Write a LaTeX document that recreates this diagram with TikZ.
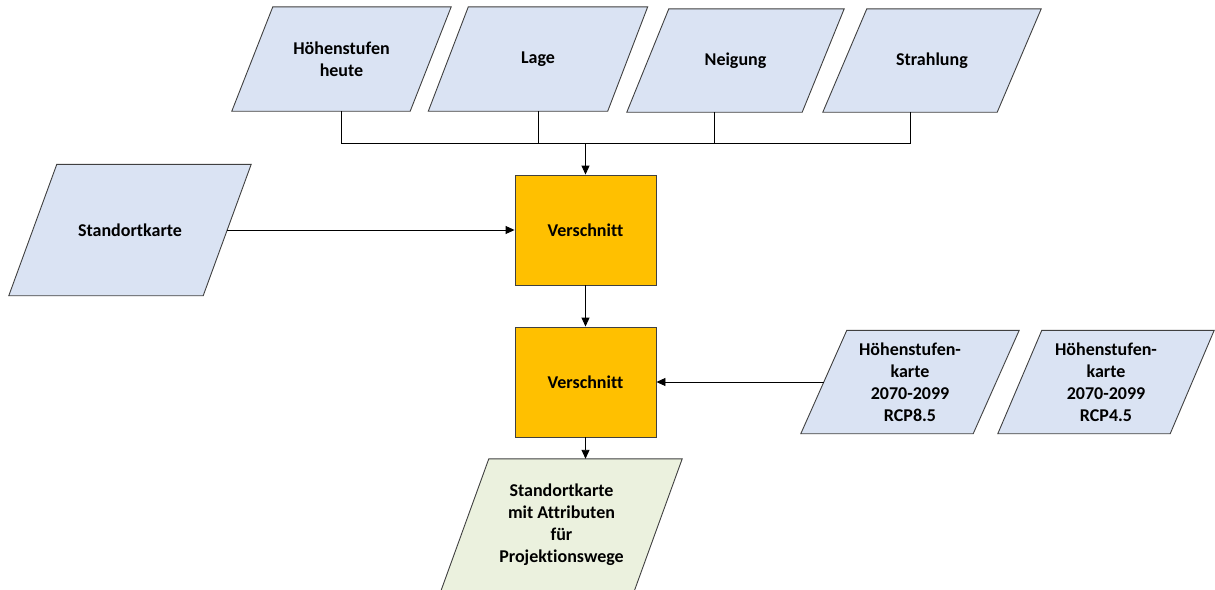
\documentclass[tikz,border=0pt]{standalone}
\usepackage{fontspec}
\setmainfont{Carlito}[Ligatures={NoCommon,NoRare,NoContextual}]
\usetikzlibrary{arrows.meta,backgrounds,calc}
\definecolor{inBlue}{HTML}{DAE3F3}
\definecolor{procOrange}{HTML}{FFC000}
\definecolor{outGreen}{HTML}{EBF1DE}
\definecolor{edgeGray}{HTML}{404040}
\tikzset{
  boxtext/.style={shape=rectangle, inner sep=0pt, align=center,
    font=\fontsize{18}{22}\selectfont\bfseries},
  shapeline/.style={draw=edgeGray, line width=0.9pt, line join=miter},
  procbox/.style={boxtext, draw=edgeGray, line width=0.9pt, fill=procOrange,
    minimum width=141pt, minimum height=110pt},
  conn/.style={draw=black, line width=0.9pt},
  arr/.style={conn, -{Triangle[length=9pt,width=8pt]}},
}
% name, cx, cy, W, H, slant, fill, text
\newcommand{\parabox}[8]{%
  \node[boxtext, minimum width=#4pt, minimum height=#5pt] (#1) at (#2,#3) {#8};
  \begin{scope}[on background layer]
    \draw[shapeline, fill=#7] ($(#1.north west)+(#6,0)$) -- (#1.north east)
      -- ($(#1.south east)+(-#6,0)$) -- (#1.south west) -- cycle;
  \end{scope}
}
\begin{document}
\begin{tikzpicture}[x=1pt,y=-1pt]
\useasboundingbox (0,0) rectangle (1215,589);

\parabox{h1}{341.5}{59}{219}{104}{41}{inBlue}{Höhenstufen\\heute}
\parabox{h2}{538}{59}{219}{104}{40}{inBlue}{Lage}
\parabox{h3}{735.5}{60.5}{217}{103}{42}{inBlue}{Neigung}
\parabox{h4}{932}{60.5}{218}{103}{44}{inBlue}{Strahlung}

\parabox{sk}{130}{230}{242}{131}{48}{inBlue}{Standortkarte}

\node[procbox] (v1) at (585.5,230) {Verschnitt};
\node[procbox] (v2) at (585.5,382) {Verschnitt};

\parabox{r85}{910}{382}{218}{103}{46}{inBlue}{Höhenstufen-\\karte\\2070-2099\\RCP8.5}
\parabox{r45}{1106}{382}{216}{103}{44}{inBlue}{Höhenstufen-\\karte\\2070-2099\\RCP4.5}

\parabox{res}{561.5}{525}{241}{132}{48}{outGreen}{Standortkarte\\mit Attributen\\für\\Projektionswege}

\coordinate (bus) at (585.5,143);
\draw[conn] (h1.south) |- (bus);
\draw[conn] (h2.south) |- (bus);
\draw[conn] ([xshift=-21pt]h3.south) |- (bus);
\draw[conn] ([xshift=-22pt]h4.south) |- (bus);
\draw[arr] (bus) -- (v1.north);

\draw[arr] ([xshift=-24pt]sk.east) -- (v1.west);
\draw[arr] (v1.south) -- (v2.north);
\draw[arr] ([xshift=23pt]r85.west) -- (v2.east);
\draw[arr] (v2.south) -- ([xshift=24pt]res.north);
\end{tikzpicture}
\end{document}
